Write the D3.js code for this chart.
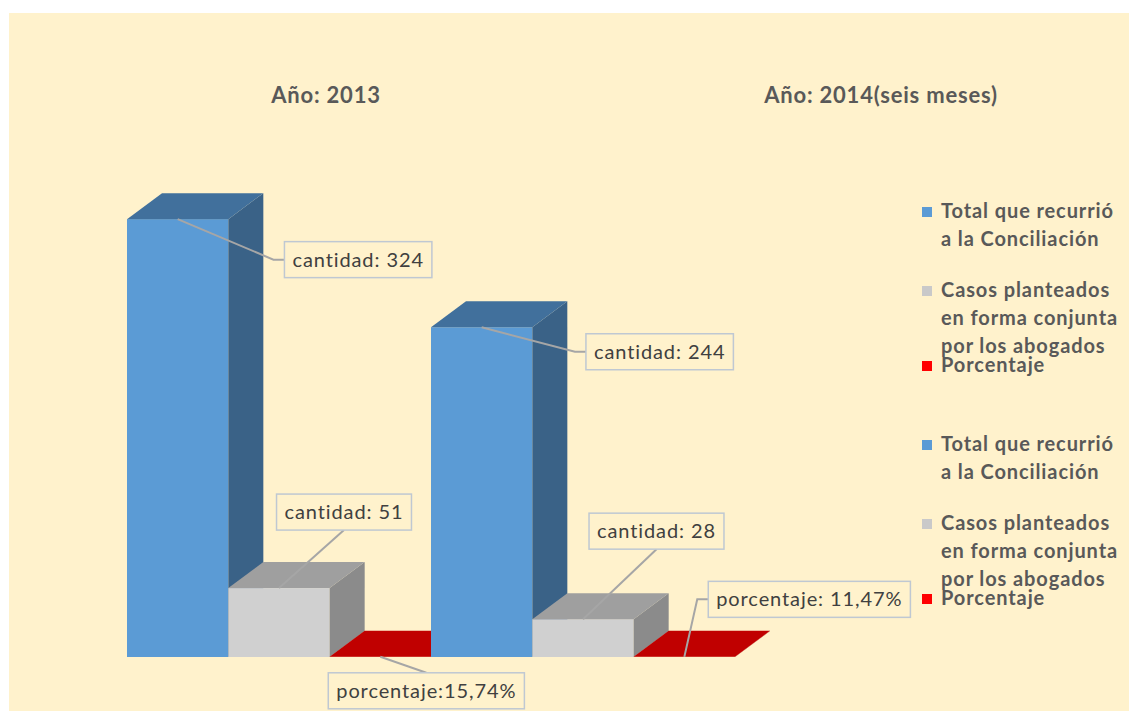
<!DOCTYPE html>
<html>
<head>
<meta charset="utf-8">
<script src="https://cdn.jsdelivr.net/npm/d3@7"></script>
<style>
  body { margin: 0; background: #ffffff; }
  svg { display: block; }
  text { font-family: Lato, "Open Sans", "Liberation Sans", sans-serif; }
</style>
</head>
<body>
<svg id="chart" width="1129" height="711"></svg>
<script>
// ---- data ----
const years = ["Año: 2013", "Año: 2014(seis meses)"];
const seriesNames = [
  "Total que recurrió a la Conciliación",
  "Casos planteados en forma conjunta por los abogados",
  "Porcentaje"
];
const totalRecurrio = [324, 244];
const casosConjuntos = [51, 28];
const porcentaje = [0.1574, 0.1147];
const cantidadPrefix = ["cantidad: ", "cantidad: "];
const porcentajePrefix = ["porcentaje:", "porcentaje: "];

// ---- layout / style ----
const W = 1129, H = 711;
const depth = { dx: 35, dy: -26 };
const palette = [
  { front: "#5b9bd5", top: "#41709c", side: "#3a6287", key: "#5b9bd5" },
  { front: "#d0d0d0", top: "#9f9f9f", side: "#8b8b8b", key: "#c9c9c9" },
  { front: "#c00000", top: "#c00000", side: "#8f0000", key: "#ff0000" }
];
const titleX = [326, 881];
// label box centre offsets from the anchor point, and leader shape
const labelLayout = [
  [ {dx: 180.5, dy: 40.5, leader: "left"}, {dx: 65, dy: -76, leader: "bottom"}, {dx: 46, dy: 34, leader: "top"} ],
  [ {dx: 178, dy: 24.5, leader: "left"},   {dx: 73.5, dy: -88, leader: "bottom"}, {dx: 125, dy: -57.5, leader: "left"} ]
];

const svg = d3.select("#chart");

// cream chart area
svg.append("rect").attr("x", 9).attr("y", 13).attr("width", W - 9).attr("height", H - 13)
  .attr("fill", "#fff2cc");

const x0 = d3.scaleBand().domain(years).range([127, 735]).padding(0);
const x1 = d3.scaleBand().domain(seriesNames).range([0, x0.bandwidth()]).padding(0);
const y = d3.scaleLinear().domain([0, 350]).range([657, 184]);

const locale = d3.formatLocale({ decimal: ",", thousands: ".", grouping: [3], currency: ["", ""] });
const fmtPct = locale.format(".2%");
const fmtInt = locale.format("d");

// build table of bars
const table = [];
years.forEach((yr, gi) => {
  const vals = [totalRecurrio[gi], casosConjuntos[gi], porcentaje[gi]];
  const labels = [
    cantidadPrefix[gi] + fmtInt(totalRecurrio[gi]),
    cantidadPrefix[gi] + fmtInt(casosConjuntos[gi]),
    porcentajePrefix[gi] + fmtPct(porcentaje[gi])
  ];
  seriesNames.forEach((s, si) => {
    table.push({ gi, si, year: yr, series: s, value: vals[si], label: labels[si] });
  });
});

// titles
svg.selectAll("text.title").data(years).join("text")
  .attr("class", "title")
  .attr("x", (d, i) => titleX[i]).attr("y", 103)
  .attr("text-anchor", "middle")
  .attr("font-size", 22).attr("font-weight", "bold").attr("letter-spacing", 0.8)
  .attr("fill", "#595959")
  .text(d => d);

// 3-D bars, drawn left to right so each bar overlaps the previous side face
const bars = svg.append("g");
table.forEach(d => {
  const x = x0(d.year) + x1(d.series);
  const w = x1.bandwidth();
  const yt = y(d.value), yb = y(0);
  const c = palette[d.si];
  const g = bars.append("g");
  g.append("rect").attr("x", x).attr("y", yt).attr("width", w).attr("height", Math.max(0, yb - yt))
    .attr("fill", c.front);
  g.append("path")
    .attr("d", `M${x + w},${yt} L${x + w + depth.dx},${yt + depth.dy} L${x + w + depth.dx},${yb + depth.dy} L${x + w},${yb} Z`)
    .attr("fill", c.side);
  g.append("path")
    .attr("d", `M${x},${yt} L${x + depth.dx},${yt + depth.dy} L${x + w + depth.dx},${yt + depth.dy} L${x + w},${yt} Z`)
    .attr("fill", c.top);
});

// data labels with leader lines
const labG = svg.append("g");
table.forEach(d => {
  const ax = x0(d.year) + x1(d.series) + x1.bandwidth() / 2;
  const ay = y(d.value);
  const L = labelLayout[d.gi][d.si];
  const cx = ax + L.dx, cy = ay + L.dy;
  const t = labG.append("text")
    .attr("x", cx).attr("y", cy + 7)
    .attr("text-anchor", "middle")
    .attr("font-size", 20).attr("letter-spacing", 0.9).attr("fill", "#404040")
    .text(d.label);
  const tw = t.node().getComputedTextLength();
  const bw = tw + 16, bh = 36;
  const bx = cx - bw / 2, by = cy - bh / 2;
  let pts;
  if (L.leader === "left") pts = [[ax, ay], [bx - 11, cy], [bx, cy]];
  else if (L.leader === "bottom") pts = [[ax, ay], [cx, by + bh]];
  else pts = [[ax, ay], [cx, by]];
  labG.insert("path", "text")
    .attr("d", d3.line()(pts))
    .attr("fill", "none").attr("stroke", "#a6a6a6").attr("stroke-width", 2);
  labG.insert("rect", "text")
    .attr("x", bx).attr("y", by).attr("width", bw).attr("height", bh)
    .attr("fill", "#fff2cc").attr("stroke", "#bfc8d2").attr("stroke-width", 1.5);
});

// legend (shown twice)
function wrapLines(text, maxW, probe) {
  const words = text.split(" ");
  const lines = [];
  let cur = "";
  words.forEach(w => {
    const test = cur ? cur + " " + w : w;
    probe.text(test);
    if (cur && probe.node().getComputedTextLength() > maxW) { lines.push(cur); cur = w; }
    else cur = test;
  });
  if (cur) lines.push(cur);
  return lines;
}
const legendStarts = [218, 297, 372];
const legendBlocks = [0, 233];
const lineH = 28;
const leg = svg.append("g").attr("font-size", 20).attr("font-weight", "bold")
  .attr("fill", "#595959").attr("letter-spacing", 0.9);
const probe = leg.append("text").attr("x", -1000).attr("y", -1000);
legendBlocks.forEach(off => {
  seriesNames.forEach((s, i) => {
    const by = legendStarts[i] + off;
    leg.append("rect").attr("x", 922).attr("y", by - 11).attr("width", 10).attr("height", 10)
      .attr("fill", palette[i].key);
    const lines = wrapLines(s, 181, probe);
    const t = leg.append("text").attr("x", 941).attr("y", by);
    lines.forEach((ln, k) => {
      t.append("tspan").attr("x", 941).attr("y", by + k * lineH).text(ln);
    });
  });
});
probe.remove();
</script>
</body>
</html>
